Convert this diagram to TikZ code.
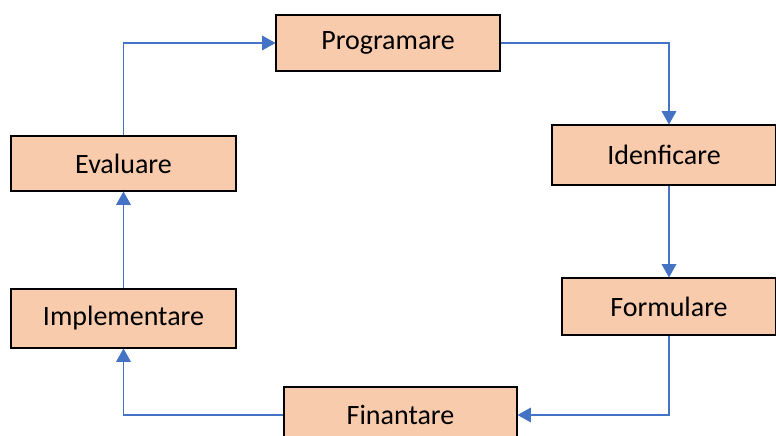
\documentclass[tikz,border=0pt]{standalone}
\usepackage{fontspec}
\setmainfont{Carlito}
\usepackage[svgnames]{xcolor}
\usetikzlibrary{arrows.meta}
\definecolor{boxfill}{HTML}{F8CBAD}
\definecolor{flowblue}{HTML}{4472C4}

\begin{document}
\begin{tikzpicture}[
  x=0.75pt, y=0.75pt,
  stage/.style={draw=black, line width=0.8pt, fill=boxfill,
    font=\fontsize{21}{25}\selectfont, inner sep=0pt},
  flow/.style={draw=flowblue, line width=0.8pt,
    -{Triangle[width=11pt,length=10pt]}},
]
\useasboundingbox (0,0) rectangle (776,436);
\clip (0,0) rectangle (776,436);
\node[stage, minimum width=168pt, minimum height=42pt] (prog) at (388,393) {Programare};
\node[stage, minimum width=168pt, minimum height=45pt] (iden) at (664,281) {Idenficare};
\node[stage, minimum width=160.5pt, minimum height=42.75pt] (form) at (669,129.5) {Formulare};
\node[stage, minimum width=174.75pt, minimum height=42pt] (fin) at (400.5,21) {Finantare};
\node[stage, minimum width=168.75pt, minimum height=44.25pt] (impl) at (123.5,117.5) {Implementare};
\node[stage, minimum width=168.75pt, minimum height=41.25pt] (eval) at (123.5,272.5) {Evaluare};
\draw[flow] (eval.north) |- (prog.west);
\draw[flow] (prog.east) -| (form.north |- iden.north);
\draw[flow] (form.north |- iden.south) -- (form.north);
\draw[flow] (form.south) |- (fin.east);
\draw[flow] (fin.west) -| (impl.south);
\draw[flow] (impl.north) -- (eval.south);
\end{tikzpicture}
\end{document}
